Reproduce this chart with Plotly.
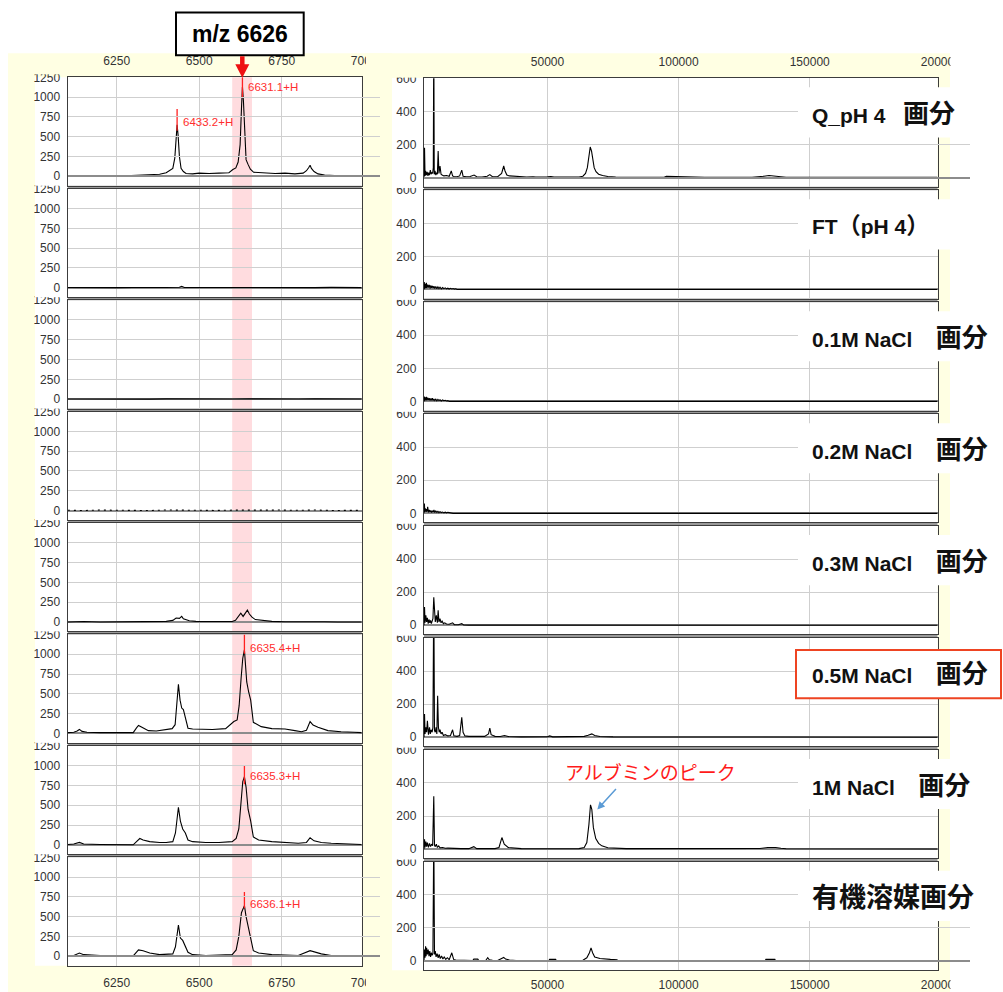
import plotly.graph_objects as go

W, H = 1003, 992

# ---------------- data ----------------
L_XTICKS = [6250, 6500, 6750, 7000]
L_YTICKS = [0, 250, 500, 750, 1000, 1250]
R_XTICKS = [50000, 100000, 150000, 200000]
R_XTEXT = ["50000", "100000", "150000", "200000"]
R_YTICKS = [0, 200, 400, 600]

# left column: m/z 6100-7000 zoom (one spectrum per fraction)
L1_X = [6102, 6120, 6140, 6160, 6180, 6200, 6230, 6260, 6290, 6320, 6350, 6380, 6400, 6412, 6420, 6426, 6430, 6433, 6436, 6440, 6445, 6452, 6460, 6480, 6500, 6530, 6560, 6590, 6602, 6611, 6618, 6624, 6628, 6631, 6634, 6638, 6642, 6648, 6655, 6665, 6680, 6700, 6730, 6760, 6790, 6815, 6825, 6832, 6836, 6840, 6848, 6860, 6880, 6910, 6940, 6970, 6992]
L1_Y = [5, 8, 3, 6, 2, 5, 8, 4, 7, 10, 15, 25, 45, 85, 100, 230, 500, 650, 520, 250, 100, 60, 35, 30, 40, 35, 40, 45, 85, 105, 180, 400, 850, 1130, 950, 600, 210, 150, 90, 50, 45, 40, 35, 40, 30, 40, 70, 110, 140, 100, 60, 30, 15, 10, 10, 5, 5]
L2_X = [6102, 6150, 6200, 6250, 6300, 6350, 6400, 6440, 6447, 6455, 6500, 6550, 6600, 6650, 6700, 6750, 6800, 6850, 6900, 6950, 6992]
L2_Y = [3, 0, 4, 1, 3, 0, 2, 5, 18, 3, 2, 4, 1, 3, 0, 2, 3, 1, 4, 2, 1]
L3_X = [6102, 6150, 6200, 6250, 6300, 6350, 6400, 6450, 6500, 6550, 6600, 6650, 6700, 6750, 6800, 6850, 6900, 6950, 6992]
L3_Y = [2, 0, 3, 1, 2, 0, 3, 1, 2, 0, 2, 3, 0, 2, 1, 3, 0, 2, 1]
L4_X = [6102, 6150, 6200, 6250, 6300, 6350, 6400, 6450, 6500, 6550, 6600, 6650, 6700, 6750, 6800, 6850, 6900, 6950, 6992]
L4_Y = [4, 0, 6, 2, 5, 0, 7, 3, 6, 1, 5, 8, 2, 6, 3, 7, 1, 5, 2]
L5_X = [6102, 6150, 6200, 6250, 6300, 6350, 6400, 6420, 6430, 6440, 6447, 6452, 6460, 6470, 6490, 6520, 6560, 6600, 6610, 6618, 6626, 6633, 6640, 6646, 6652, 6660, 6670, 6690, 6720, 6760, 6800, 6840, 6860, 6880, 6920, 6960, 6992]
L5_Y = [0, 5, 0, 3, 0, 5, 8, 20, 50, 45, 70, 40, 30, 15, 8, 5, 3, 5, 20, 60, 110, 70, 120, 150, 100, 60, 30, 20, 8, 3, 5, 8, 10, 3, 0, 5, 0]
L6_X = [6102, 6120, 6130, 6137, 6145, 6160, 6200, 6250, 6300, 6310, 6316, 6325, 6346, 6370, 6390, 6405, 6418, 6427, 6432, 6437, 6442, 6447, 6452, 6458, 6466, 6480, 6500, 6540, 6580, 6605, 6615, 6621, 6627, 6632, 6637, 6644, 6650, 6656, 6664, 6688, 6720, 6760, 6790, 6810, 6825, 6836, 6845, 6860, 6890, 6930, 6970, 6992]
L6_Y = [10, 15, 30, 50, 25, 15, 10, 8, 10, 70, 100, 80, 35, 30, 45, 50, 60, 110, 380, 620, 420, 320, 300, 180, 65, 55, 55, 50, 60, 150, 170, 350, 700, 950, 1055, 650, 520, 420, 140, 85, 60, 55, 35, 20, 40, 150, 106, 77, 35, 20, 15, 10]
L7_X = [6102, 6120, 6137, 6150, 6200, 6250, 6300, 6310, 6320, 6330, 6350, 6380, 6400, 6420, 6428, 6437, 6443, 6450, 6458, 6466, 6480, 6520, 6560, 6600, 6612, 6620, 6626, 6632, 6637, 6642, 6648, 6656, 6664, 6680, 6720, 6760, 6800, 6825, 6836, 6848, 6870, 6900, 6950, 6992]
L7_Y = [5, 10, 30, 10, 5, 0, 0, 40, 80, 60, 40, 30, 30, 40, 150, 475, 300, 200, 150, 60, 40, 30, 30, 40, 80, 200, 500, 800, 860, 730, 450, 300, 100, 60, 40, 30, 20, 30, 90, 50, 30, 20, 10, 5]
L8_X = [6102, 6120, 6137, 6150, 6200, 6250, 6300, 6316, 6330, 6350, 6380, 6420, 6428, 6437, 6443, 6450, 6458, 6466, 6480, 6520, 6560, 6600, 6612, 6620, 6628, 6637, 6642, 6648, 6656, 6664, 6680, 6720, 6760, 6800, 6836, 6848, 6870, 6900, 6950, 6992]
L8_Y = [5, 10, 40, 20, 10, 5, 5, 80, 70, 40, 20, 30, 120, 395, 230, 200, 130, 50, 20, 10, 15, 20, 80, 250, 550, 640, 500, 380, 250, 70, 40, 20, 15, 10, 70, 55, 30, 10, 10, 5]

# right column: full range 0-200000
R1_X = [2900, 3100, 3300, 3500, 3800, 4100, 4400, 4700, 5000, 5300, 5600, 5900, 6200, 6450, 6630, 6800, 7100, 7400, 7700, 8000, 8300, 8600, 9000, 9400, 9800, 10500, 11500, 12500, 13300, 13800, 14300, 15500, 16500, 17300, 17800, 19000, 20500, 22000, 23000, 25000, 27000, 28000, 29000, 31000, 32500, 33300, 33800, 34500, 35500, 37000, 38500, 42000, 44500, 45500, 50000, 51300, 52500, 58000, 62000, 63500, 64500, 65200, 65800, 66300, 66800, 67300, 67800, 68500, 69500, 71000, 73000, 76000, 85000, 94500, 95300, 110000, 128000, 130500, 132500, 134500, 137000, 139000, 141000, 198740]
R1_Y = [0, 180, 10, 40, 15, 35, 10, 30, 15, 45, 20, 30, 25, 60, 900, 20, 40, 15, 30, 20, 160, 25, 70, 20, 15, 10, 12, 8, 40, 10, 6, 5, 10, 45, 8, 5, 6, 15, 5, 3, 8, 18, 5, 5, 25, 70, 40, 15, 10, 8, 4, 3, 5, 3, 4, 6, 3, 2, 3, 8, 25, 60, 130, 185, 160, 110, 60, 35, 20, 12, 6, 3, 2, 2, 8, 2, 2, 4, 8, 12, 10, 5, 2, 1]
R2_X = [2900, 3000, 3200, 3400, 3600, 3800, 4000, 4300, 4600, 4900, 5200, 5500, 5800, 6100, 6400, 6700, 7000, 7400, 7800, 8200, 8600, 9000, 9500, 10000, 10500, 11000, 11500, 12000, 12500, 13000, 13500, 14000, 14500, 15000, 15500, 198740]
R2_Y = [0, 45, 5, 35, 10, 40, 8, 30, 12, 28, 6, 25, 10, 22, 8, 20, 6, 18, 5, 16, 6, 14, 4, 12, 5, 10, 4, 8, 3, 7, 3, 6, 2, 4, 0, 0]
R3_X = [2900, 3000, 3200, 3400, 3600, 3800, 4000, 4300, 4600, 4900, 5200, 5500, 5800, 6100, 6400, 6700, 7000, 7400, 7800, 8200, 8600, 9000, 9500, 10000, 10500, 11000, 11500, 12000, 12500, 198740]
R3_Y = [0, 30, 5, 25, 8, 28, 6, 22, 8, 20, 5, 18, 7, 20, 5, 15, 6, 14, 4, 12, 5, 10, 3, 9, 4, 7, 3, 5, 0, 0]
R4_X = [2900, 3050, 3200, 3400, 3600, 3800, 4000, 4300, 4600, 4900, 5200, 5500, 5800, 6100, 6400, 6700, 7000, 7400, 7800, 8200, 8600, 9000, 9500, 10000, 10500, 11000, 11500, 12000, 12700, 13500, 14000, 198740]
R4_Y = [0, 60, 8, 30, 10, 25, 8, 40, 6, 20, 8, 18, 5, 16, 8, 20, 5, 14, 6, 12, 4, 10, 5, 8, 3, 7, 3, 6, 4, 3, 0, 0]
R5_X = [2900, 3100, 3300, 3600, 3900, 4200, 4500, 4800, 5100, 5400, 5700, 6000, 6300, 6630, 6900, 7200, 7600, 8000, 8300, 8600, 9000, 9400, 9800, 10300, 10800, 11500, 12500, 13800, 14500, 16000, 17300, 18000, 20000, 198740]
R5_Y = [0, 110, 15, 60, 20, 45, 10, 35, 15, 30, 10, 25, 40, 170, 30, 20, 60, 15, 90, 20, 40, 15, 25, 10, 15, 8, 6, 15, 4, 3, 10, 2, 1, 0]
R6_X = [2900, 3100, 3300, 3600, 3900, 4200, 4600, 5000, 5300, 5600, 6000, 6300, 6630, 6900, 7200, 7500, 7800, 8100, 8400, 8700, 9000, 9400, 9800, 10300, 11000, 12000, 13000, 13800, 14300, 15500, 16500, 17300, 17800, 18500, 20000, 22000, 24000, 26000, 27500, 28000, 28500, 30000, 32000, 33600, 35000, 40000, 50000, 50800, 52000, 60000, 64000, 65500, 66900, 68000, 70000, 75000, 198740]
R6_Y = [0, 140, 20, 60, 30, 100, 15, 60, 20, 45, 30, 60, 900, 40, 30, 60, 20, 250, 60, 30, 45, 20, 30, 10, 15, 8, 10, 45, 8, 5, 10, 120, 30, 8, 5, 4, 3, 5, 20, 55, 15, 5, 4, 10, 4, 2, 3, 8, 2, 2, 5, 12, 20, 10, 4, 2, 0]
R7_X = [2900, 3100, 3300, 3600, 3900, 4200, 4600, 5000, 5400, 5800, 6200, 6630, 6900, 7200, 7600, 8000, 8500, 9000, 10000, 11000, 12000, 14000, 17000, 20000, 21900, 23000, 26000, 30000, 31500, 32600, 33500, 35000, 40000, 44800, 46000, 55000, 62000, 64000, 65000, 65800, 66400, 66900, 67500, 68400, 69500, 70700, 73000, 80000, 120000, 131000, 134000, 137000, 139000, 141000, 198740]
R7_Y = [0, 60, 10, 45, 15, 40, 10, 35, 15, 30, 20, 320, 25, 15, 30, 10, 20, 8, 10, 5, 6, 4, 3, 3, 15, 3, 2, 3, 10, 70, 30, 10, 3, 5, 2, 2, 3, 10, 40, 150, 268, 240, 130, 64, 35, 20, 8, 3, 2, 4, 10, 10, 5, 2, 1]
R8_X = [2900, 3100, 3300, 3500, 3700, 3900, 4200, 4500, 4800, 5100, 5400, 5700, 6000, 6300, 6630, 6900, 7200, 7500, 7900, 8300, 8700, 9100, 9600, 10100, 10600, 11200, 11800, 12500, 13500, 14200, 15000, 17000, 19000, 21500, 21900, 23400, 23800, 25000, 26500, 27200, 27800, 29000, 31000, 33300, 34000, 35500, 38000, 45000, 50500, 50800, 53100, 53400, 60000, 63500, 65000, 66000, 66600, 67200, 68000, 70000, 74000, 76500, 77000, 120000, 133000, 133300, 136700, 137000, 198740]
R8_Y = [0, 70, 20, 90, 30, 80, 40, 70, 30, 60, 25, 50, 35, 45, 800, 40, 60, 25, 45, 20, 40, 15, 30, 12, 25, 10, 20, 8, 50, 10, 6, 4, 3, 3, 12, 12, 3, 3, 5, 20, 8, 4, 3, 22, 12, 6, 3, 2, 2, 10, 10, 2, 2, 5, 20, 50, 80, 50, 25, 15, 10, 8, 0, 0, 0, 10, 10, 0, 0]

LEFT_SPECTRA = [(L1_X, L1_Y), (L2_X, L2_Y), (L3_X, L3_Y), (L4_X, L4_Y),
                (L5_X, L5_Y), (L6_X, L6_Y), (L7_X, L7_Y), (L8_X, L8_Y)]
RIGHT_SPECTRA = [(R1_X, R1_Y), (R2_X, R2_Y), (R3_X, R3_Y), (R4_X, R4_Y),
                 (R5_X, R5_Y), (R6_X, R6_Y), (R7_X, R7_Y), (R8_X, R8_Y)]

# annotated peaks: panel index, m/z, label, marker from-to intensity, label intensity
PEAK_PANEL = [0, 0, 5, 6, 7]
PEAK_MZ = [6433, 6631, 6637, 6637, 6637]
PEAK_TEXT = ["6433.2+H", "6631.1+H", "6635.4+H", "6635.3+H", "6636.1+H"]
PEAK_LO = [575, 1000, 1006, 764, 608]
PEAK_HI = [850, 1250, 1250, 995, 812]
PEAK_LABEL_Y = [683, 1123, 1082, 864, 666]

CJK = "<span style='font-size:26px'>画分</span>"
LABELS_HTML = [
    "<b>Q_pH 4\u00a0\u00a0\u00a0" + CJK + "</b>",
    "<b>FT<span style='font-size:23px'>（</span>pH 4<span style='font-size:23px'>）</span></b>",
    "<b>0.1M NaCl\u00a0\u00a0\u00a0\u00a0" + CJK + "</b>",
    "<b>0.2M NaCl\u00a0\u00a0\u00a0\u00a0" + CJK + "</b>",
    "<b>0.3M NaCl\u00a0\u00a0\u00a0\u00a0" + CJK + "</b>",
    "<b>0.5M NaCl\u00a0\u00a0\u00a0\u00a0" + CJK + "</b>",
    "<b>1M NaCl\u00a0\u00a0\u00a0\u00a0" + CJK + "</b>",
    "<b><span style='font-size:27px'>有機溶媒画分</span></b>",
]
HIGHLIGHT = 5  # boxed fraction

# ---------------- layout geometry (reference pixels) ----------------
L_X0, L_X1 = 67.7, 361.7
L_RANGE = [6101.5, 6992.4]
R_X0, R_X1 = 423.9, 937.5
R_RANGE = [2860, 198740]
L_TOP0, L_STEP, L_H = 78.0, 111.1, 108.1
R_TOP0, R_STEP, R_H = 79.0, 111.6, 108.0
L_YR = [-120, 1250]
R_YR = [-55, 600]

YELLOW = "#FFFFE3"
GRID = "#CFCFCF"
FRAME = "#3c3c3c"
TICKFONT = dict(family="Liberation Sans, Arial", size=12, color="#333333")

VS, VOFF = 0.984, 8.0   # vertical page mapping observed in the renderer


def PX(p):
    return p / W


def PY(r):
    d = r / VS - VOFF
    return 1 - d / H


def ltop(i):
    return L_TOP0 + i * L_STEP


def rtop(i):
    return R_TOP0 + i * R_STEP


fig = go.Figure()
layout = {}

for i in range(8):
    n = i + 1
    key = "" if n == 1 else str(n)
    xs, ys = LEFT_SPECTRA[i]
    fig.add_trace(go.Scatter(x=xs, y=ys, mode="lines", xaxis=f"x{key}", yaxis=f"y{key}",
                             line=dict(color="black", width=1.1,
                                       dash="2px,4px" if i == 3 else "solid"),
                             hoverinfo="skip"))
    layout[f"xaxis{key}"] = dict(domain=[PX(L_X0), PX(L_X1)], range=L_RANGE, anchor=f"y{key}",
                                 tickvals=L_XTICKS[:3], showticklabels=False, ticks="",
                                 showgrid=True, gridcolor=GRID, gridwidth=1, zeroline=False,
                                 showline=True, mirror=True, linecolor=FRAME, linewidth=1.3)
    layout[f"yaxis{key}"] = dict(domain=[PY(ltop(i) + L_H), PY(ltop(i))], range=L_YR,
                                 anchor=f"x{key}", tickvals=L_YTICKS,
                                 ticktext=[str(v) for v in L_YTICKS], tickfont=TICKFONT,
                                 ticks="outside", ticklen=4, tickcolor="rgba(0,0,0,0)",
                                 showgrid=True, gridcolor=GRID, gridwidth=1,
                                 zeroline=True, zerolinecolor="#8c8c8c", zerolinewidth=1.5,
                                 showline=True, mirror=True, linecolor=FRAME, linewidth=1.3)
    m = i + 9
    xs, ys = RIGHT_SPECTRA[i]
    fig.add_trace(go.Scatter(x=xs, y=ys, mode="lines", xaxis=f"x{m}", yaxis=f"y{m}",
                             line=dict(color="black", width=1.1), hoverinfo="skip"))
    layout[f"xaxis{m}"] = dict(domain=[PX(R_X0), PX(R_X1)], range=R_RANGE, anchor=f"y{m}",
                               tickvals=R_XTICKS[:3], showticklabels=False, ticks="",
                               showgrid=True, gridcolor=GRID, gridwidth=1, zeroline=False,
                               showline=True, mirror=True, linecolor=FRAME, linewidth=1.3)
    layout[f"yaxis{m}"] = dict(domain=[PY(rtop(i) + R_H), PY(rtop(i))], range=R_YR,
                               anchor=f"x{m}", tickvals=R_YTICKS,
                               ticktext=[str(v) for v in R_YTICKS], tickfont=TICKFONT,
                               ticks="outside", ticklen=4, tickcolor="rgba(0,0,0,0)",
                               showgrid=True, gridcolor=GRID, gridwidth=1,
                               zeroline=True, zerolinecolor="#8c8c8c", zerolinewidth=1.8,
                               showline=True, mirror=True, linecolor=FRAME, linewidth=1.3)

# peak marker lines (red)
for k in range(len(PEAK_MZ)):
    n = PEAK_PANEL[k] + 1
    key = "" if n == 1 else str(n)
    fig.add_trace(go.Scatter(x=[PEAK_MZ[k], PEAK_MZ[k]], y=[PEAK_LO[k], PEAK_HI[k]], mode="lines",
                             xaxis=f"x{key}", yaxis=f"y{key}",
                             line=dict(color="#FF2020", width=1.3), hoverinfo="skip"))

# label-only axes (top and bottom), extended so the clipped last label can be drawn
l_px_per = (L_X1 - L_X0) / (L_RANGE[1] - L_RANGE[0])
r_px_per = (R_X1 - R_X0) / (R_RANGE[1] - R_RANGE[0])
L_EXT = 380.0
R_EXT = 970.0
l_ext_range = [L_RANGE[0], L_RANGE[0] + (L_EXT - L_X0) / l_px_per]
r_ext_range = [R_RANGE[0], R_RANGE[0] + (R_EXT - R_X0) / r_px_per]
for ax, anchor, side, dom, rng, tv, tt, tl in [
    (17, "y", "top", [PX(L_X0), PX(L_EXT)], l_ext_range, L_XTICKS, [str(v) for v in L_XTICKS], 7),
    (18, "y8", "bottom", [PX(L_X0), PX(L_EXT)], l_ext_range, L_XTICKS, [str(v) for v in L_XTICKS], 6),
    (19, "y9", "top", [PX(R_X0), PX(R_EXT)], r_ext_range, R_XTICKS, R_XTEXT, 7),
    (20, "y16", "bottom", [PX(R_X0), PX(R_EXT)], r_ext_range, R_XTICKS, R_XTEXT, 3),
]:
    layout[f"xaxis{ax}"] = dict(domain=dom, range=rng, anchor=anchor, side=side,
                                tickvals=tv, ticktext=tt, tickfont=TICKFONT,
                                ticks="outside", ticklen=tl, tickcolor="rgba(0,0,0,0)",
                                showgrid=False, zeroline=False, showline=False)
    fig.add_trace(go.Scatter(x=[], y=[], xaxis=f"x{ax}", yaxis=anchor, hoverinfo="skip",
                             showlegend=False))

# ---------------- shapes ----------------
shapes = []


def rect(x0, y0, x1, y1, fill, layer="below", line=None):
    shapes.append(dict(type="rect", xref="paper", yref="paper", x0=PX(x0), x1=PX(x1),
                       y0=PY(y1), y1=PY(y0), fillcolor=fill, layer=layer,
                       line=line if line else dict(width=0)))


rect(8, 54, 950, 1000, YELLOW)
rect(35, 78, L_X1, ltop(7) + L_H, "white")
rect(392, 78.3, R_X1, rtop(7) + R_H, "white")
shapes.append(dict(type="rect", xref="x", yref="paper", x0=6600, x1=6660,
                   y0=PY(ltop(7) + L_H), y1=PY(L_TOP0), fillcolor="#FFDCDF",
                   line=dict(width=0), layer="below"))
for i in range(7):
    rect(L_X0, ltop(i) + L_H, L_X1, ltop(i + 1), "#9a9a9a")
    rect(R_X0, rtop(i) + R_H, R_X1, rtop(i + 1), "#9a9a9a")

# clipped top tick labels (1250 / 600)
rect(35, 64, 66.5, L_TOP0 - 3, YELLOW, "above")
rect(392, 64, 422.5, R_TOP0 - 0.7, YELLOW, "above")
for i in range(1, 8):
    rect(35, ltop(i) - 7.5, 66.5, ltop(i) - 3, "white", "above")
    rect(392, rtop(i) - 8, 422.5, rtop(i) - 2.3, "white", "above")
# clipped right-most x labels
rect(366, 54, 392, 76, YELLOW, "above")
rect(366, 970, 392, 1000, YELLOW, "above")
rect(950.5, 40, 1003, 78, "white", "above")
rect(950.5, 972, 1003, 1000, "white", "above")

# fraction label boxes
for i in range(8):
    if i == HIGHLIGHT:
        rect(796, rtop(i) + 12, 1001, rtop(i) + 60, "white", "above",
             line=dict(color="#EE4422", width=2))
    else:
        rect(798, rtop(i) + 9, 1003, rtop(i) + 59, "white", "above")

# m/z 6626 box and arrow
rect(176, 13.3, 303.7, 56, "white", "above", line=dict(color="black", width=2))
shapes.append(dict(type="line", xref="paper", yref="paper", x0=PX(242.3), x1=PX(242.3),
                   y0=PY(57), y1=PY(67), line=dict(color="#EE1111", width=4.5), layer="above"))
shapes.append(dict(type="path", xref="paper", yref="paper", layer="above",
                   path=f"M{PX(235.3)},{PY(65)} L{PX(249.3)},{PY(65)} L{PX(242.3)},{PY(78.5)} Z",
                   fillcolor="#EE1111", line=dict(width=0)))

# ---------------- annotations ----------------
ann = []
for i in range(8):
    ann.append(dict(xref="paper", yref="paper", x=PX(810), y=PY(rtop(i) + 36),
                    xanchor="left", yanchor="middle", showarrow=False, text=LABELS_HTML[i],
                    font=dict(family="Liberation Sans, Noto Sans CJK JP", size=21, color="#111111")))
ann.append(dict(xref="paper", yref="paper", x=PX(240), y=PY(35), xanchor="center",
                yanchor="middle", showarrow=False, text="<b>m/z 6626</b>",
                font=dict(family="Liberation Sans, Arial", size=23, color="black")))
for k in range(len(PEAK_MZ)):
    n = PEAK_PANEL[k] + 1
    key = "" if n == 1 else str(n)
    ann.append(dict(xref=f"x{key}", yref=f"y{key}",
                    x=PEAK_MZ[k], y=PEAK_LABEL_Y[k], xanchor="left", yanchor="middle",
                    xshift=4, showarrow=False, text=PEAK_TEXT[k],
                    font=dict(family="Liberation Sans, Arial", size=11.5, color="#FF2D2D")))
ann.append(dict(xref="paper", yref="paper", x=PX(650), y=PY(770), xanchor="center",
                yanchor="middle", showarrow=False, text="アルブミンのピーク",
                font=dict(family="Noto Sans CJK JP", size=19, color="#FF1A1A")))
ann.append(dict(xref="x15", yref="y15", x=69000, y=240, ax=20, ay=-22, text="",
                showarrow=True, arrowhead=2, arrowsize=1, arrowwidth=1.5,
                arrowcolor="#5B9BD5"))

fig.update_layout(width=W, height=H, margin=dict(l=0, r=0, t=0, b=0, pad=0),
                  paper_bgcolor="white", plot_bgcolor="rgba(0,0,0,0)",
                  showlegend=False, shapes=shapes, annotations=ann, **layout)

fig.write_html("out.html")
